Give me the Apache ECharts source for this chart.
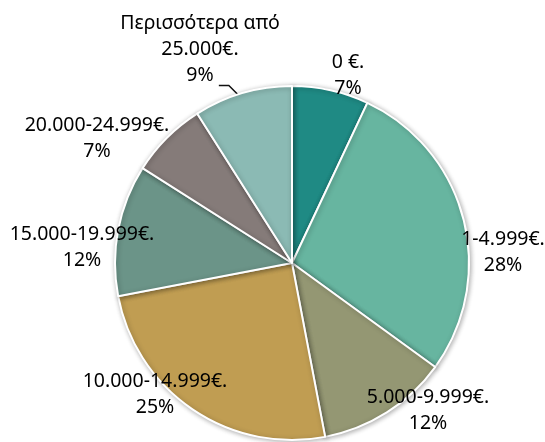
<!DOCTYPE html>
<html>
<head>
<meta charset="utf-8">
<script src="https://cdn.jsdelivr.net/npm/echarts@6/dist/echarts.min.js"></script>
<style>html,body{margin:0;padding:0;background:#fff}#c{width:545px;height:442px}</style>
</head>
<body>
<div id="c"></div>
<script>
const categories = ['0 €.', '1-4.999€.', '5.000-9.999€.', '10.000-14.999€.', '15.000-19.999€.', '20.000-24.999€.', 'Περισσότερα από\n25.000€.'];
const percents = [7, 28, 12, 25, 12, 7, 9];
const colors = ['#1f8a84', '#67b5a0', '#949773', '#c09d52', '#6b9488', '#857b79', '#8bbab4'];
// label block centres (layout only)
const labelPos = [[348, 75], [503, 252], [428, 410], [155, 394], [82, 247], [97, 138], [200, 49]];
const CX = 292, CY = 263, R = 177;

const chart = echarts.init(document.getElementById('c'), null, {renderer: 'canvas'});
chart.setOption({
  animation: false,
  backgroundColor: '#ffffff',
  series: [{
    type: 'pie',
    center: [CX, CY],
    radius: R,
    startAngle: 90,
    clockwise: true,
    data: categories.map((c, i) => ({
      name: c,
      value: percents[i],
      itemStyle: {color: colors[i]},
      labelLine: {show: i === 6}
    })),
    itemStyle: {
      borderColor: '#ffffff',
      borderWidth: 2,
      shadowBlur: 5,
      shadowColor: 'rgba(0,0,0,0.3)',
      shadowOffsetX: 1,
      shadowOffsetY: 1
    },
    label: {
      show: true,
      position: 'outside',
      overflow: 'none',
      formatter: p => p.name + '\n' + p.value + '%',
      fontFamily: 'Noto Sans',
      fontSize: 19.5,
      lineHeight: 26,
      color: '#000000',
      align: 'center'
    },
    labelLine: {
      show: false,
      lineStyle: {color: '#111111', width: 1.5}
    },
    labelLayout: function (params) {
      const i = params.dataIndex;
      const p = labelPos[i];
      const out = {x: p[0], y: p[1], align: 'center', verticalAlign: 'middle'};
      if (i === 6) {
        let before = 0;
        for (let k = 0; k < i; k++) before += percents[k];
        const total = percents.reduce((a, b) => a + b, 0);
        const frac = (before + percents[i] * 0.45) / total;
        const ang = frac * Math.PI * 2;
        const ax = CX + R * Math.sin(ang), ay = CY - R * Math.cos(ang);
        out.labelLinePoints = [[ax, ay], [ax - 9, ay - 9], [ax - 19, ay - 9]];
      }
      return out;
    },
    emphasis: {disabled: true}
  }]
});
</script>
</body>
</html>
